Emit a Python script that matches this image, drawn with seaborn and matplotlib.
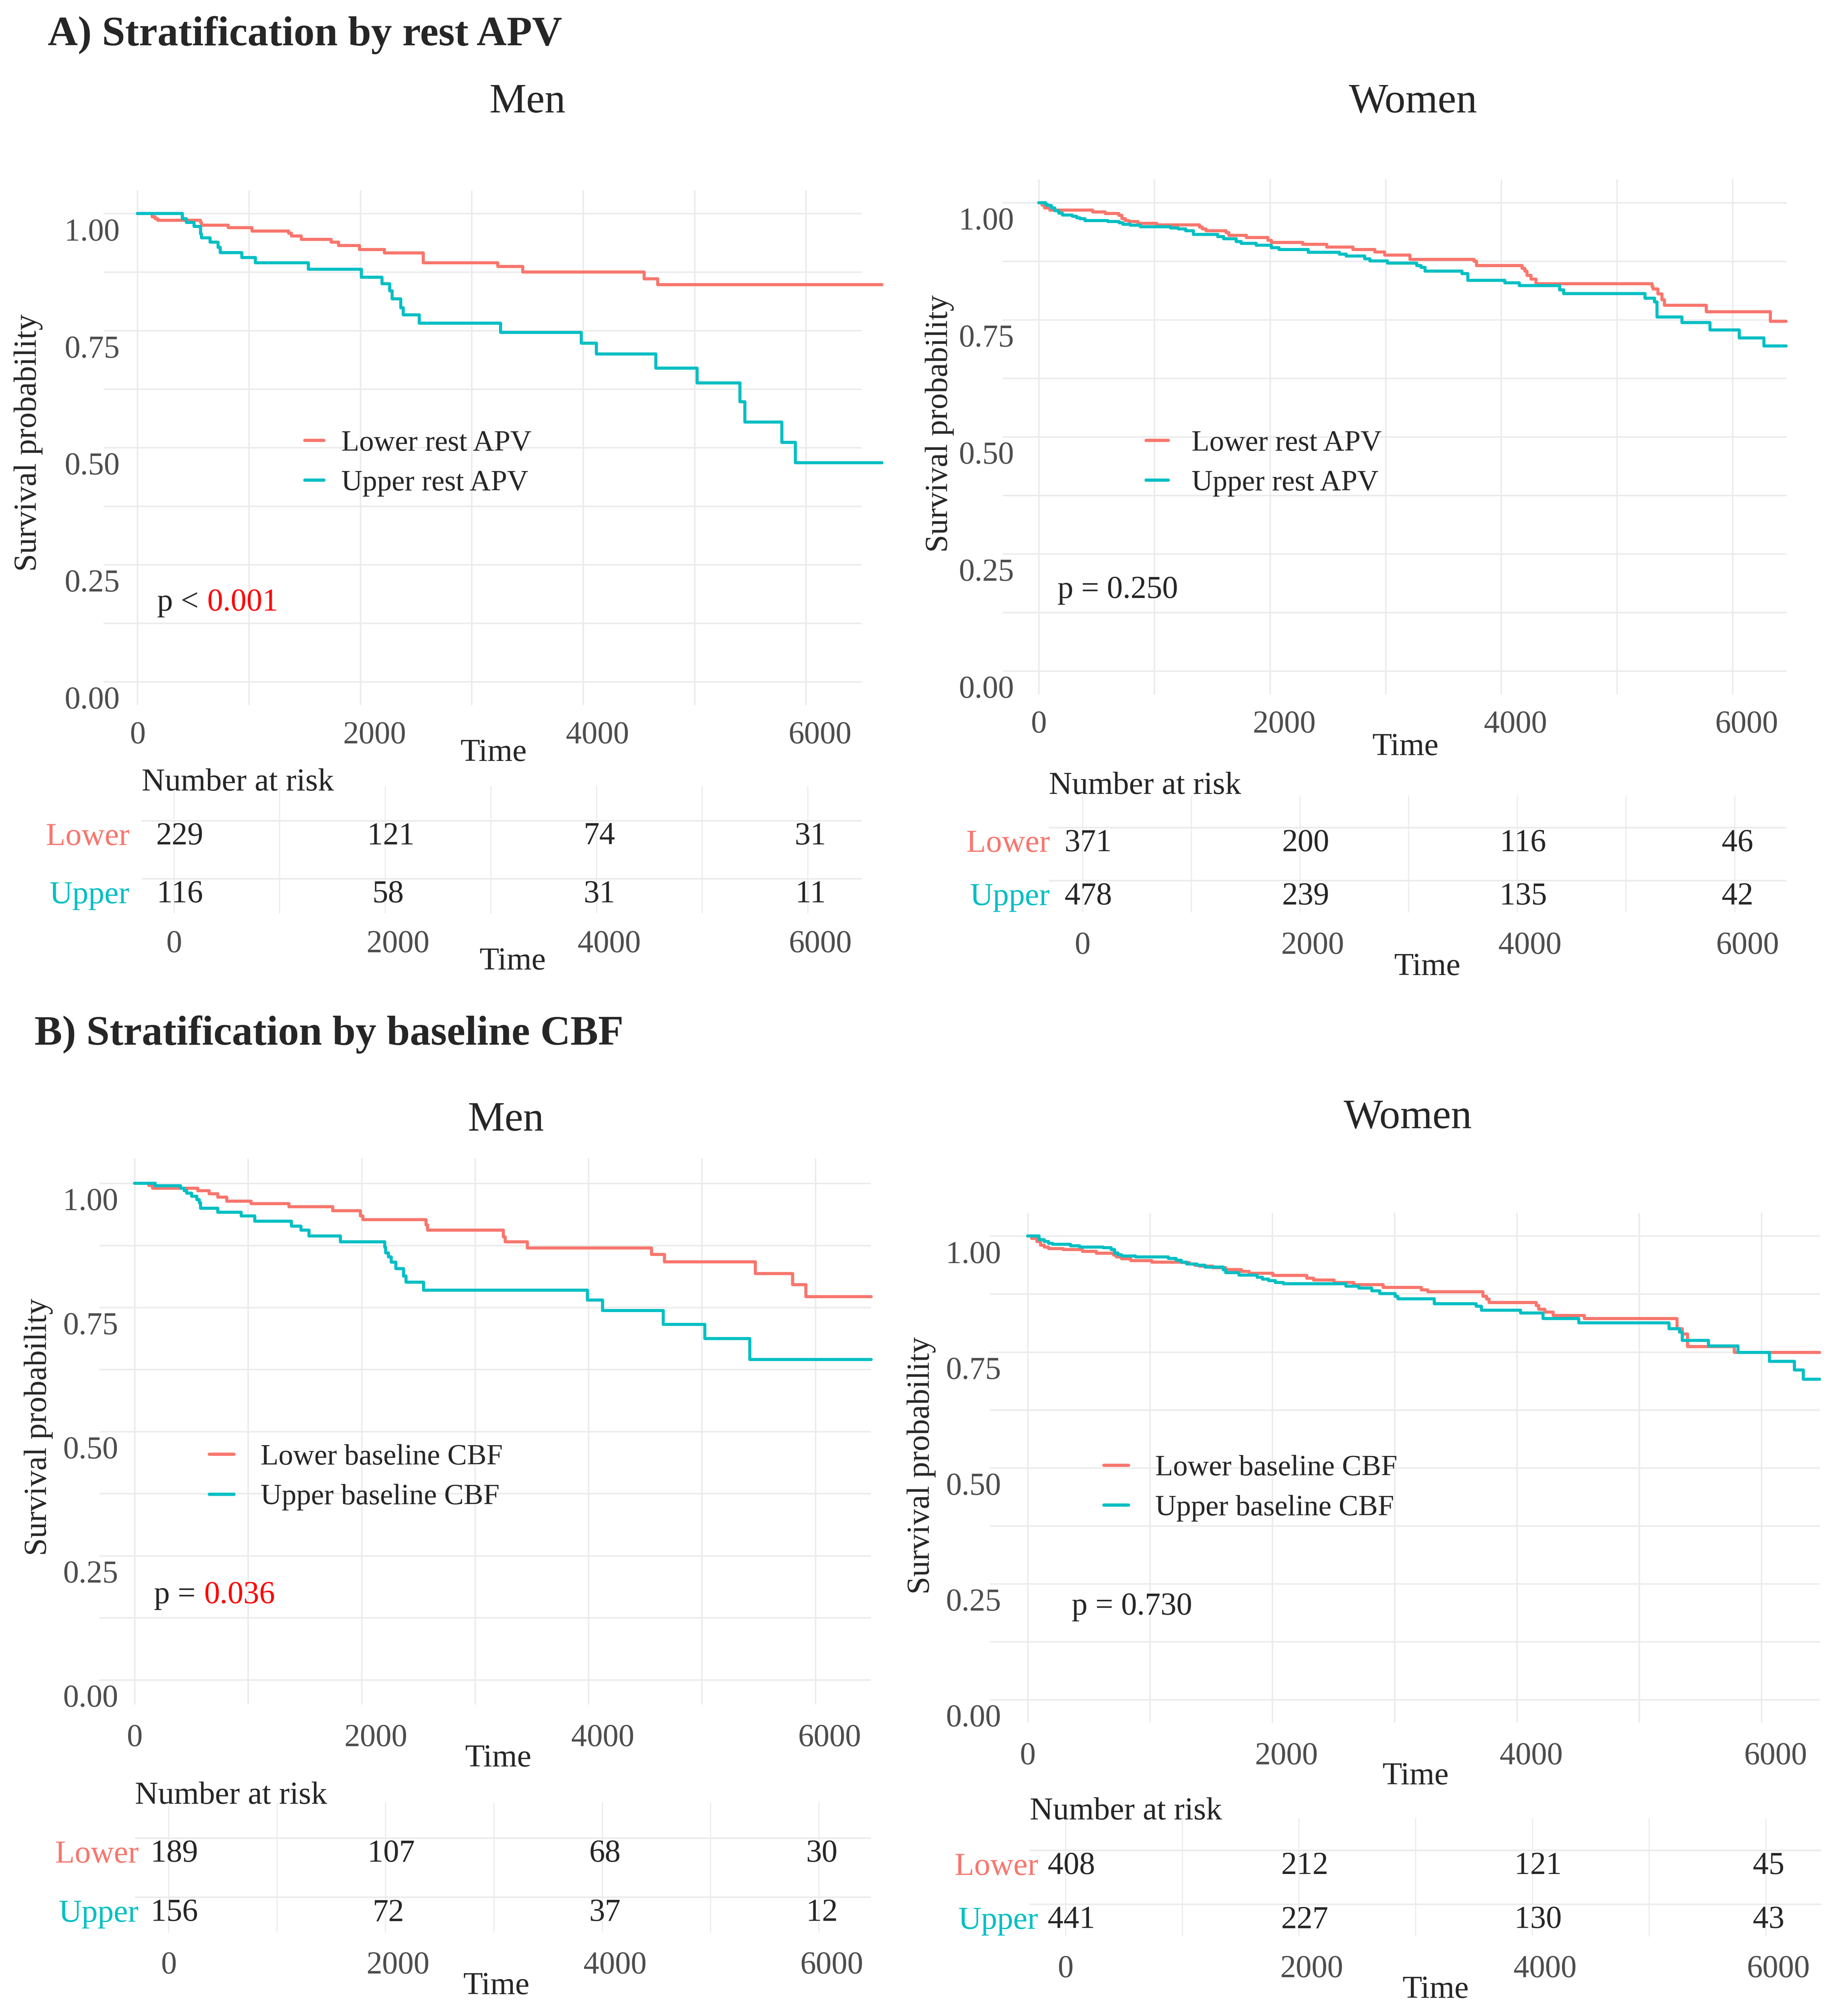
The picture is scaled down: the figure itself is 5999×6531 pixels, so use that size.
import numpy as np
import pandas as pd
import matplotlib
matplotlib.use("Agg")
import matplotlib.pyplot as plt
import matplotlib.transforms as mtransforms
from matplotlib.lines import Line2D
import seaborn as sns

# ---------------- data ----------------
groups = ["Lower", "Upper"]
risk_times = [0, 2000, 4000, 6000]
apv_labels = ["Lower rest APV", "Upper rest APV"]
cbf_labels = ["Lower baseline CBF", "Upper baseline CBF"]

# A) rest APV, men
a_men_lower_t = [0, 131, 158, 181, 566, 575, 814, 1027, 1357, 1380, 1471, 1738, 1805, 1991,
                 2217, 2566, 3235, 3457, 4548, 4670, 6683]
a_men_lower_s = [1.0, 0.993, 0.989, 0.986, 0.981, 0.975, 0.970, 0.963, 0.958, 0.952, 0.945,
                 0.939, 0.932, 0.923, 0.916, 0.895, 0.887, 0.875, 0.861, 0.848, 0.848]
a_men_upper_t = [0, 403, 439, 507, 566, 575, 652, 724, 742, 937, 1059, 1534, 2009, 2195, 2262,
                 2285, 2362, 2385, 2529, 3258, 3982, 4118, 4652, 5023, 5407, 5452, 5783, 5905, 6683]
a_men_upper_s = [1.0, 0.989, 0.981, 0.973, 0.957, 0.948, 0.939, 0.928, 0.917, 0.906, 0.895,
                 0.881, 0.864, 0.850, 0.835, 0.818, 0.799, 0.784, 0.766, 0.746, 0.723, 0.700,
                 0.670, 0.638, 0.598, 0.555, 0.511, 0.468, 0.468]
a_men_risk_lower = [229, 121, 74, 31]
a_men_risk_upper = [116, 58, 31, 11]

# A) rest APV, women
a_women_lower_t = [0, 30, 52, 96, 466, 575, 693, 719, 749, 780, 858, 1020, 1390, 1416, 1447,
                   1621, 1643, 1795, 1983, 2013, 2283, 2492, 2719, 2906, 2993, 3211, 3765, 3786,
                   4179, 4205, 4222, 4257, 4301, 5303, 5312, 5355, 5390, 5412, 5773, 6327, 6462]
a_women_lower_s = [1.0, 0.995, 0.989, 0.984, 0.980, 0.977, 0.973, 0.966, 0.962, 0.960, 0.956,
                   0.953, 0.948, 0.944, 0.940, 0.936, 0.930, 0.926, 0.920, 0.915, 0.911, 0.905,
                   0.900, 0.895, 0.888, 0.879, 0.875, 0.866, 0.860, 0.854, 0.845, 0.837, 0.827,
                   0.821, 0.816, 0.805, 0.793, 0.781, 0.767, 0.747, 0.747]
a_women_upper_t = [0, 60, 74, 109, 139, 174, 205, 292, 327, 357, 401, 597, 697, 728, 793, 880,
                   1142, 1207, 1272, 1338, 1547, 1599, 1708, 1752, 1882, 2013, 2078, 2331, 2601,
                   2658, 2819, 2863, 3015, 3268, 3307, 3342, 3660, 3712, 4031, 4157, 4505, 4540,
                   5242, 5325, 5346, 5564, 5804, 6057, 6270, 6462]
a_women_upper_s = [1.0, 0.997, 0.994, 0.989, 0.983, 0.978, 0.974, 0.971, 0.968, 0.966, 0.962,
                   0.960, 0.957, 0.954, 0.952, 0.949, 0.946, 0.944, 0.940, 0.932, 0.928, 0.923,
                   0.917, 0.913, 0.909, 0.904, 0.900, 0.894, 0.890, 0.886, 0.880, 0.876, 0.871,
                   0.866, 0.862, 0.854, 0.849, 0.834, 0.829, 0.823, 0.814, 0.806, 0.796, 0.788,
                   0.756, 0.744, 0.728, 0.711, 0.694, 0.694]
a_women_risk_lower = [371, 200, 116, 46]
a_women_risk_upper = [478, 239, 135, 42]

# B) baseline CBF, men
b_men_lower_t = [0, 124, 156, 556, 658, 733, 813, 1027, 1360, 1747, 1991, 2013, 2569, 2582,
                 3249, 3267, 3462, 4556, 4671, 5471, 5800, 5916, 6493]
b_men_lower_s = [1.0, 0.996, 0.990, 0.985, 0.979, 0.972, 0.964, 0.959, 0.953, 0.945, 0.934,
                 0.927, 0.916, 0.906, 0.892, 0.882, 0.870, 0.857, 0.842, 0.818, 0.796, 0.772, 0.772]
b_men_upper_t = [0, 182, 404, 436, 458, 502, 547, 569, 582, 733, 938, 1058, 1382, 1467, 1538,
                 1813, 2204, 2213, 2236, 2262, 2302, 2369, 2391, 2547, 3991, 4124, 4658, 5027,
                 5422, 6493]
b_men_upper_s = [1.0, 0.995, 0.990, 0.985, 0.980, 0.974, 0.967, 0.961, 0.950, 0.942, 0.934,
                 0.924, 0.914, 0.906, 0.894, 0.882, 0.871, 0.860, 0.852, 0.841, 0.828, 0.813,
                 0.801, 0.785, 0.765, 0.744, 0.716, 0.687, 0.645, 0.645]
b_men_risk_lower = [189, 107, 68, 30]
b_men_risk_upper = [156, 72, 37, 12]

# B) baseline CBF, women
b_women_lower_t = [0, 34, 77, 107, 136, 171, 290, 448, 563, 704, 725, 768, 844, 1015, 1258,
                   1322, 1365, 1407, 1514, 1620, 1748, 1812, 2004, 2281, 2337, 2507, 2665, 2908,
                   3220, 3271, 3723, 3753, 3774, 4158, 4179, 4230, 4298, 4550, 5309, 5352, 5394,
                   5778, 6475]
b_women_lower_s = [1.0, 0.995, 0.988, 0.980, 0.976, 0.973, 0.971, 0.967, 0.963, 0.959, 0.955,
                   0.951, 0.947, 0.944, 0.943, 0.940, 0.937, 0.935, 0.932, 0.928, 0.924, 0.920,
                   0.915, 0.909, 0.905, 0.900, 0.895, 0.889, 0.884, 0.880, 0.870, 0.864, 0.857,
                   0.850, 0.842, 0.836, 0.829, 0.822, 0.800, 0.789, 0.762, 0.749, 0.749]
b_women_upper_t = [0, 94, 136, 171, 205, 350, 426, 618, 682, 712, 738, 768, 883, 1151, 1215,
                   1258, 1301, 1386, 1450, 1599, 1620, 1727, 1876, 1919, 1970, 2026, 2090, 2601,
                   2708, 2814, 2878, 3006, 3028, 3326, 3667, 3710, 4030, 4213, 4507, 5245, 5330,
                   5352, 5565, 5808, 6064, 6269, 6341, 6475]
b_women_upper_s = [1.0, 0.992, 0.988, 0.984, 0.982, 0.979, 0.976, 0.975, 0.971, 0.964, 0.960,
                   0.957, 0.955, 0.952, 0.948, 0.944, 0.940, 0.937, 0.933, 0.927, 0.921, 0.916,
                   0.911, 0.907, 0.904, 0.900, 0.897, 0.892, 0.888, 0.882, 0.876, 0.870, 0.865,
                   0.854, 0.849, 0.840, 0.834, 0.822, 0.813, 0.800, 0.793, 0.775, 0.763, 0.749,
                   0.730, 0.711, 0.691, 0.691]
b_women_risk_lower = [408, 212, 121, 45]
b_women_risk_upper = [441, 227, 130, 43]

# ---------------- style ----------------
RED = "#F8766D"
TEAL = "#00BFC4"
GRID = "#EBEBEB"
TICKTXT = "#4D4D4D"
LW = 2.0

sns.set_style("white")
plt.rcParams["font.family"] = ["Liberation Serif", "DejaVu Serif"]

# layout is measured on a 1440 px wide copy of the reference
W, H = 1440.0, 1567.7
DPI = 360  # full 400 dpi gives ~48 Mpx, too big for the checker
fig = plt.figure(figsize=(6666 / 400, 7257 / 400), dpi=DPI)


def rect(l, t, r, b):
    return [l / W, 1 - b / H, (r - l) / W, (b - t) / H]


def fpos(x, y):
    return (x / W, 1 - y / H)


def shift(dx_pt, dy_pt):
    return mtransforms.ScaledTranslation(dx_pt / 72, dy_pt / 72, fig.dpi_scale_trans)


panels = [
    dict(t_low=a_men_lower_t, s_low=a_men_lower_s, t_up=a_men_upper_t, s_up=a_men_upper_s,
         n_low=a_men_risk_lower, n_up=a_men_risk_upper, legend=apv_labels,
         p_prefix="p <", p_value="0.001", p_red=True, p_pos=(122.4, 475.7),
         main=(80.6, 148.3, 671.4, 549.4), xlim=(-306, 6500), ylab_dx=12.7, xpad=8.5,
         ylab=(22, 345), xlab=(384.5, 575.5), leg=(237.5, 345, 377), leg_hl=(0.65, 0.6),
         sub=("Men", 411, 87.5),
         table=(110.5, 612.3, 671.7, 711.8), txlim=(-304, 6515), tpad=10.7,
         txlab=(399.3, 738.2), rowpad=7.9, nar_pad=-3),
    dict(t_low=a_women_lower_t, s_low=a_women_lower_s, t_up=a_women_upper_t, s_up=a_women_upper_s,
         n_low=a_women_risk_lower, n_up=a_women_risk_upper, legend=apv_labels,
         p_prefix="p = 0.250", p_value=None, p_red=False, p_pos=(824, 466),
         main=(781.2, 139.8, 1392.1, 541.0), xlim=(-312, 6468), ylab_dx=8.8, xpad=8.5,
         ylab=(732, 330), xlab=(1095, 571), leg=(893, 346, 376), leg_hl=(0.75, 0.8),
         sub=("Women", 1101, 87.5),
         table=(817.3, 619.8, 1391.6, 711.0), txlim=(-308, 6472), tpad=12.4,
         txlab=(1112, 742.5), rowpad=-0.8, nar_pad=1),
    dict(t_low=b_men_lower_t, s_low=b_men_lower_s, t_up=b_men_upper_t, s_up=b_men_upper_s,
         n_low=b_men_risk_lower, n_up=b_men_risk_upper, legend=cbf_labels,
         p_prefix="p =", p_value="0.036", p_red=True, p_pos=(120, 1249),
         main=(77.5, 902.7, 678.6, 1328.2), xlim=(-310, 6490), ylab_dx=14.5, xpad=10.5,
         ylab=(30, 1112), xlab=(388, 1359), leg=(163, 1136, 1166), leg_hl=(0.84, 0.92),
         sub=("Men", 394, 881),
         table=(105.1, 1404.5, 678.6, 1505.8), txlim=(-311, 6480), tpad=12.2,
         txlab=(386.6, 1536.4), rowpad=-2.6, nar_pad=-0.7),
    dict(t_low=b_women_lower_t, s_low=b_women_lower_s, t_up=b_women_upper_t, s_up=b_women_upper_s,
         n_low=b_women_risk_lower, n_up=b_women_risk_upper, legend=cbf_labels,
         p_prefix="p = 0.730", p_value=None, p_red=False, p_pos=(835, 1258),
         main=(771.3, 945.1, 1417.8, 1342.4), xlim=(-308, 6475), ylab_dx=8.7, xpad=10.5,
         ylab=(718, 1142), xlab=(1103, 1373), leg=(860, 1145, 1174), leg_hl=(0.84, 0.92),
         sub=("Women", 1097, 879),
         table=(802.3, 1416.5, 1419.0, 1508.9), txlim=(-307, 6476), tpad=12.0,
         txlab=(1118.4, 1539.4), rowpad=-5.7, nar_pad=-0.9),
]


def km_panel(p):
    ax = fig.add_axes(rect(*p["main"]))
    df = pd.DataFrame({
        "time": p["t_low"] + p["t_up"],
        "surv": p["s_low"] + p["s_up"],
        "group": ["Lower"] * len(p["t_low"]) + ["Upper"] * len(p["t_up"]),
    })
    sns.lineplot(data=df, x="time", y="surv", hue="group", hue_order=groups,
                 palette=[RED, TEAL], estimator=None, sort=False, drawstyle="steps-post",
                 linewidth=LW, legend=False, ax=ax, clip_on=False)
    ax.set_xlim(*p["xlim"])
    ax.set_ylim(-0.05, 1.05)
    ax.set_xticks(risk_times, [str(t) for t in risk_times])
    ax.set_xticks([1000, 3000, 5000], minor=True)
    ax.set_yticks([0, 0.25, 0.5, 0.75, 1.0], ["0.00", "0.25", "0.50", "0.75", "1.00"],
                  va="top", ha="right")
    ax.set_yticks([0.125, 0.375, 0.625, 0.875], minor=True)
    ax.grid(which="both", color=GRID, linewidth=0.95)
    ax.set_axisbelow(True)
    for s in ax.spines.values():
        s.set_visible(False)
    ax.tick_params(axis="y", which="major", length=2.7, width=1.0, color="black", pad=2,
                   labelsize=20.5, labelcolor=TICKTXT)
    ax.tick_params(axis="x", which="major", length=2, width=1, color="black", pad=p["xpad"],
                   labelsize=20.5, labelcolor=TICKTXT)
    ax.tick_params(which="minor", length=0)
    for lab in ax.get_yticklabels():
        lab.set_transform(lab.get_transform() + shift(p["ylab_dx"] * 0.833 + 4.7, -3))
    for lab in ax.get_xticklabels():
        if lab.get_text() != "0":
            lab.set_transform(lab.get_transform() + shift(9.2, 0))

    ax.set_xlabel("Time", fontsize=20.8)
    ax.xaxis.set_label_coords(*fpos(*p["xlab"]), transform=fig.transFigure)
    ax.xaxis.label.set_va("top")
    ax.set_ylabel("Survival probability", fontsize=20.8)
    ax.yaxis.set_label_coords(*fpos(*p["ylab"]), transform=fig.transFigure)
    ax.yaxis.label.set_va("center")

    lx, ly1, ly2 = p["leg"]
    hl, hp = p["leg_hl"]
    handles = [Line2D([], [], color=RED, lw=2.1), Line2D([], [], color=TEAL, lw=2.1)]
    ax.legend(handles, p["legend"], loc="center left", bbox_to_anchor=fpos(lx, (ly1 + ly2) / 2),
              bbox_transform=fig.transFigure, frameon=False, fontsize=19, handlelength=hl,
              handletextpad=hp, labelspacing=0.45, borderpad=0, borderaxespad=0)

    t = fig.text(*fpos(*p["p_pos"]), p["p_prefix"], fontsize=20.5, va="baseline", ha="left")
    if p["p_value"] is not None:
        ax.annotate(p["p_value"], xy=(1, 0), xycoords=t, xytext=(5.5, 0),
                    textcoords="offset points", va="bottom", ha="left", fontsize=20.5,
                    color="red" if p["p_red"] else "black")

    name, sx, sy = p["sub"]
    fig.text(*fpos(sx, sy), name, fontsize=27, ha="center", va="baseline")
    return ax


def risk_panel(p):
    ax = fig.add_axes(rect(*p["table"]))
    ax.set_xlim(*p["txlim"])
    ax.set_ylim(1.6, -0.6)
    for row, counts in enumerate([p["n_low"], p["n_up"]]):
        for t, n in zip(risk_times, counts):
            ax.annotate(str(n), xy=(t, row), xytext=(1.9 * (len(str(n)) - 1), -1),
                        textcoords="offset points", ha="center", va="top", fontsize=20.5)
    ax.set_xticks(risk_times, [str(t) for t in risk_times])
    ax.set_xticks([1000, 3000, 5000], minor=True)
    ax.set_yticks([0, 1], groups, va="top", ha="right")
    ax.grid(axis="x", which="both", color=GRID, linewidth=0.7)
    ax.grid(axis="y", which="major", color=GRID, linewidth=1.0)
    ax.set_axisbelow(True)
    for s in ax.spines.values():
        s.set_visible(False)
    ax.tick_params(axis="x", length=0, pad=p["tpad"], labelsize=20.5, labelcolor=TICKTXT)
    ax.tick_params(axis="y", length=0, pad=p["rowpad"], labelsize=20.8)
    ax.tick_params(which="minor", length=0)
    for lab, c in zip(ax.get_yticklabels(), [RED, TEAL]):
        lab.set_color(c)
        lab.set_transform(lab.get_transform() + shift(0, -1.5))
    for lab in ax.get_xticklabels():
        if lab.get_text() != "0":
            lab.set_transform(lab.get_transform() + shift(8.3, 0))
    ax.set_title("Number at risk", loc="left", fontsize=20.8, pad=p["nar_pad"])
    ax.set_xlabel("Time", fontsize=20.8)
    ax.xaxis.set_label_coords(*fpos(*p["txlab"]), transform=fig.transFigure)
    ax.xaxis.label.set_va("top")
    return ax


for p in panels:
    km_panel(p)
    risk_panel(p)

fig.text(*fpos(37.3, 35.3), "A) Stratification by rest APV", fontsize=27, fontweight="bold",
         ha="left", va="baseline")
fig.text(*fpos(27, 814), "B) Stratification by baseline CBF", fontsize=27, fontweight="bold",
         ha="left", va="baseline")

fig.savefig("out.png", dpi=DPI, facecolor="white")
